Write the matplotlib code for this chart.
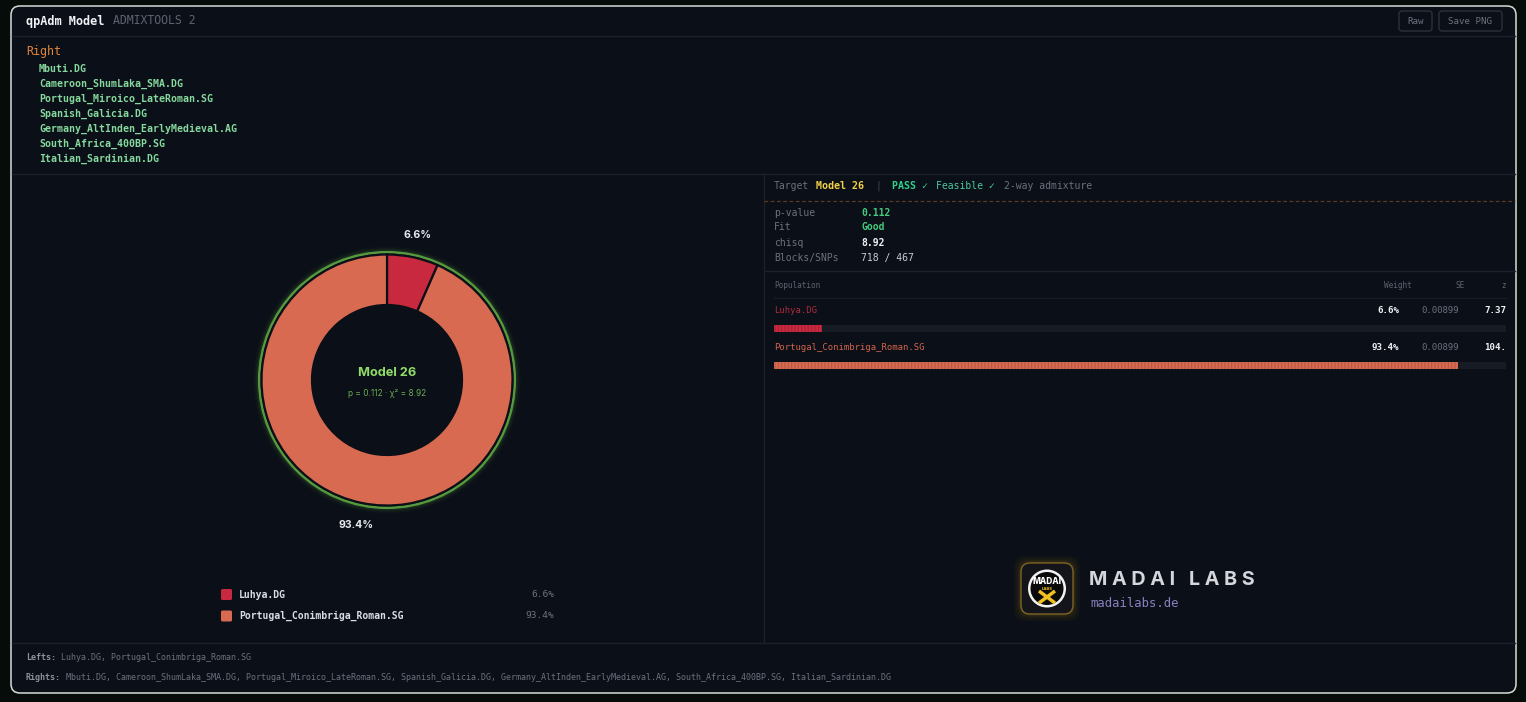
import matplotlib
matplotlib.use("Agg")
import matplotlib.pyplot as plt
from matplotlib.patches import FancyBboxPatch, Circle
import numpy as np

# ---------------- data ----------------
right_pops = ["Mbuti.DG", "Cameroon_ShumLaka_SMA.DG", "Portugal_Miroico_LateRoman.SG",
              "Spanish_Galicia.DG", "Germany_AltInden_EarlyMedieval.AG",
              "South_Africa_400BP.SG", "Italian_Sardinian.DG"]
left_pops = ["Luhya.DG", "Portugal_Conimbriga_Roman.SG"]
weights = [6.6, 93.4]
se_vals = ["0.00899", "0.00899"]
z_vals = ["7.37", "104."]
pop_colors = ["#c8293f", "#d96a52"]
pop_text_colors = ["#b02a3e", "#d4644d"]
target = "Model 26"
p_value = "0.112"
fit = "Good"
chisq = "8.92"
blocks_snps = "718 / 467"

W, H = 1526, 702
MONO = ["DejaVu Sans Mono", "DejaVu Sans"]
SANS = ["Inter", "DejaVu Sans"]

fig = plt.figure(figsize=(W / 100, H / 100), dpi=100)
fig.patch.set_facecolor("#060c09")

bg = fig.add_axes([0, 0, 1, 1])
bg.set_xlim(0, W)
bg.set_ylim(H, 0)
bg.axis("off")

# card
bg.add_patch(FancyBboxPatch((11, 6), 1505, 687, boxstyle="round,pad=0,rounding_size=9",
                            fc="#0b0f17", ec="#d5ddd8", lw=1.1, zorder=0))
sep = "#1b212b"
bg.plot([12, 1515], [35.5, 35.5], color=sep, lw=1)
bg.plot([12, 1515], [173.5, 173.5], color=sep, lw=1)
bg.plot([12, 1515], [642.5, 642.5], color=sep, lw=1)
bg.plot([763.5, 763.5], [174, 642], color=sep, lw=1)

# header
bg.text(26, 21, "qpAdm Model", family=MONO, weight="bold", size=8.6, color="#f1f3f6", va="center")
bg.text(113, 21, "ADMIXTOOLS 2", family=MONO, size=8.3, color="#5d6470", va="center")
for (x0, w, lab) in [(1399, 33, "Raw"), (1439, 63, "Save PNG")]:
    bg.add_patch(FancyBboxPatch((x0, 11), w, 20, boxstyle="round,pad=0,rounding_size=3",
                                fc="none", ec="#2b313b", lw=1))
    bg.text(x0 + w / 2, 21.5, lab, family=MONO, size=6.6, color="#6b727e", ha="center", va="center")

# right list
bg.text(26, 51, "Right", family=MONO, size=8.4, color="#e0853c", va="center")
for i, p in enumerate(right_pops):
    bg.text(39, 69 + 15 * i, p, family=MONO, weight="bold", size=7.1, color="#86d99e", va="center")

# ---------------- donut ----------------
cx, cy, R = 387, 380, 160
dax = fig.add_axes([(cx - R) / W, (H - cy - R) / H, 2 * R / W, 2 * R / H])
dax.axis("off")
for lw, a in [(8, 0.03), (5.5, 0.05), (3.5, 0.08)]:
    dax.add_patch(Circle((0, 0), 128, fill=False, ec="#6fcf4f", lw=lw, alpha=a))
dax.add_patch(Circle((0, 0), 127.8, fill=False, ec="#57993f", lw=1.8))
wedges, _ = dax.pie(weights, colors=pop_colors, radius=125.5, startangle=90, counterclock=False,
                    wedgeprops=dict(width=50.5, edgecolor="#0b0f17", linewidth=1.6))
dax.set_xlim(-R, R)
dax.set_ylim(-R, R)
dax.set_aspect("equal")
dax.axis("off")
dax.add_patch(Circle((0, 0), 75, fc="#0b0f17", ec="none"))
for wdg, wv in zip(wedges, weights):
    ang = np.deg2rad((wdg.theta1 + wdg.theta2) / 2)
    dax.text(148 * np.cos(ang), 148 * np.sin(ang), f"{wv}%", family=SANS, weight="bold",
             size=7.6, color="#e6e8ee", ha="center", va="center")
dax.text(0, 7, target, family=SANS, weight="bold", size=9.2, color="#8fdd68", ha="center", va="center")
dax.text(0, -14, f"p = {p_value} · χ² = {chisq}", family=SANS, size=6.0, color="#6cad52",
         ha="center", va="center")

# legend
for i, (p, wv, c) in enumerate(zip(left_pops, weights, pop_colors)):
    y = 594.5 + 21.5 * i
    bg.add_patch(FancyBboxPatch((221, y - 5.5), 11, 11, boxstyle="round,pad=0,rounding_size=1.5",
                                fc=c, ec="none"))
    bg.text(239, y, p, family=MONO, weight="bold", size=7.05, color="#d9dde4", va="center")
    bg.text(554, y, f"{wv}%", family=MONO, size=6.8, color="#6b727e", va="center", ha="right")

# ---------------- right panel ----------------
ty = 186
bg.text(774, ty, "Target", family=MONO, size=7.0, color="#6b727e", va="center")
bg.text(816, ty, target, family=MONO, weight="bold", size=7.2, color="#f4d04a", va="center")
bg.text(876, ty, "|", family=MONO, size=7.0, color="#3d434d", va="center")
bg.text(892, ty, "PASS ✓", family=MONO, weight="bold", size=7.2, color="#2fd08c", va="center")
bg.text(936, ty, "Feasible ✓", family=MONO, size=7.0, color="#4cc9a0", va="center")
bg.text(1004, ty, "2-way admixture", family=MONO, size=7.0, color="#6b727e", va="center")
bg.plot([764, 1515], [200.5, 200.5], color="#5a3a22", lw=0.9, ls=(0, (3, 2)))

stats = [("p-value", p_value, "#45c97d"), ("Fit", fit, "#45c97d"),
         ("chisq", chisq, "#eef0f3"), ("Blocks/SNPs", blocks_snps, "#c9ced6")]
for i, (lab, val, col) in enumerate(stats):
    y = 212.5 + 15 * i
    bg.text(774, y, lab, family=MONO, size=7.0, color="#6b727e", va="center")
    bg.text(861, y, val, family=MONO, size=7.0, color=col, va="center",
            weight="bold" if lab != "Blocks/SNPs" else "normal")
bg.plot([764, 1515], [270.5, 270.5], color=sep, lw=1)

bg.text(774, 285.5, "Population", family=MONO, size=5.6, color="#5d6470", va="center")
bg.text(1412, 285.5, "Weight", family=MONO, size=5.6, color="#5d6470", va="center", ha="right")
bg.text(1465, 285.5, "SE", family=MONO, size=5.6, color="#5d6470", va="center", ha="right")
bg.text(1506, 285.5, "z", family=MONO, size=5.6, color="#5d6470", va="center", ha="right")
bg.plot([774, 1506], [297.5, 297.5], color="#171c25", lw=1)

for i, (p, wv, se, z, tc) in enumerate(zip(left_pops, weights, se_vals, z_vals, pop_text_colors)):
    y = 310.5 + 37 * i
    bg.text(774, y, p, family=MONO, size=6.4, color=tc, va="center")
    bg.text(1399, y, f"{wv}%", family=MONO, weight="bold", size=6.6, color="#eef0f3", va="center", ha="right")
    bg.text(1459, y, se, family=MONO, size=6.4, color="#6b727e", va="center", ha="right")
    bg.text(1506, y, z, family=MONO, weight="bold", size=6.6, color="#eef0f3", va="center", ha="right")

# weight bars
bar_top, bar_bot = 318, 376
bax = fig.add_axes([774 / W, (H - bar_bot) / H, (1506 - 774) / W, (bar_bot - bar_top) / H])
bax.set_xlim(0, 100)
bax.set_ylim(bar_bot, bar_top)
bax.axis("off")
bar_y = [328.5 + 37 * i for i in range(len(weights))]
bax.barh(bar_y, [100] * len(weights), height=7.5, color="#161b24", lw=0)
plt.rcParams["hatch.linewidth"] = 0.8
bax.barh(bar_y, weights, height=7.5, color=pop_colors, hatch="|||||",
         edgecolor=["#a62235", "#b8573f"], lw=0)

# logo
for pad, a in [(7, 0.035), (5, 0.045), (3, 0.06), (1.5, 0.08)]:
    bg.add_patch(FancyBboxPatch((1021 - pad, 563 - pad), 52 + 2 * pad, 51 + 2 * pad,
                                boxstyle="round,pad=0,rounding_size=12", fc="#e0a515", ec="none", alpha=a))
bg.add_patch(FancyBboxPatch((1021, 563), 52, 51, boxstyle="round,pad=0,rounding_size=9",
                            fc="#14151a", ec="#7c6424", lw=1))
bg.add_patch(Circle((1047, 588.5), 19, fc="#f2f2f2", ec="none"))
bg.add_patch(Circle((1047, 588.5), 16.5, fc="#0a0a0a", ec="none"))
bg.plot([1039, 1055], [591, 603], color="#f0c020", lw=2.5, solid_capstyle="butt")
bg.plot([1039, 1055], [603, 591], color="#f0c020", lw=2.5, solid_capstyle="butt")
bg.text(1047, 582, "MADAI", family=SANS, weight="heavy", size=6.0, color="#ffffff", ha="center", va="center")
bg.text(1047, 589.5, "LABS", family=SANS, weight="bold", size=3.0, color="#f0c020", ha="center", va="center")

bg.text(1089, 580, "M A D A I   L A B S", family=SANS, weight="bold", size=14.2, color="#d4d6dc",
        va="center")
bg.text(1090, 603.5, "madailabs.de", family=MONO, size=8.8, color="#8a81c0", va="center")

# footer
bg.text(26, 658, "Lefts:", family=MONO, weight="bold", size=6.05, color="#8b929c", va="center")
bg.text(61, 658, ", ".join(left_pops), family=MONO, size=6.05, color="#6b727e", va="center")
bg.text(26, 678, "Rights:", family=MONO, weight="bold", size=6.05, color="#8b929c", va="center")
bg.text(66, 678, ", ".join(right_pops), family=MONO, size=6.05, color="#6b727e", va="center")

fig.savefig("out.png", dpi=100, facecolor=fig.get_facecolor())
